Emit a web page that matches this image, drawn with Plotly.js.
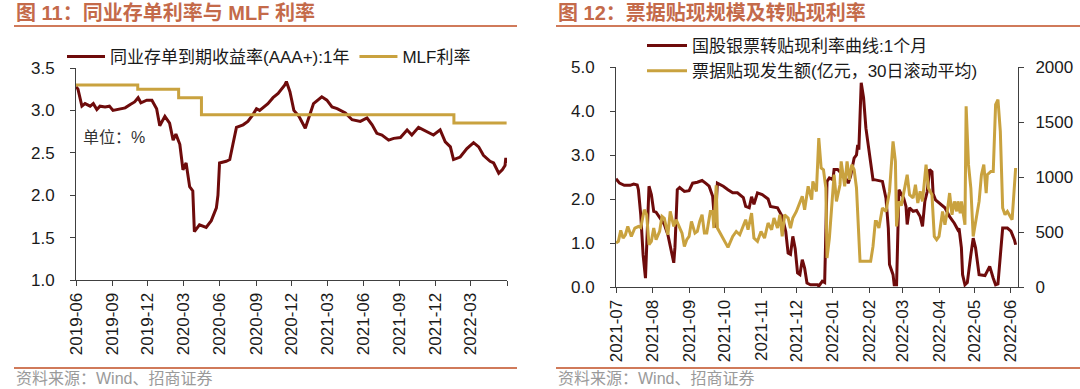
<!DOCTYPE html>
<html>
<head>
<meta charset="utf-8">
<script src="https://cdn.plot.ly/plotly-3.0.1.min.js"></script>
<style>
html,body{margin:0;padding:0;background:#fff;}
#chart{width:1080px;height:389px;}
</style>
</head>
<body>
<div id="chart"></div>
<script>
// ---------- Figure 11 data ----------
const ncdDates = ['2019-06-01','2019-06-06','2019-06-16','2019-06-24','2019-07-07','2019-07-15','2019-07-24','2019-08-01','2019-08-14','2019-08-25','2019-09-03','2019-09-17','2019-10-04','2019-10-17','2019-10-28','2019-11-06','2019-11-13','2019-11-28','2019-12-11','2019-12-23','2019-12-31','2020-01-13','2020-01-25','2020-02-03','2020-02-10','2020-02-20','2020-02-28','2020-03-07','2020-03-16','2020-03-24','2020-03-28','2020-04-10','2020-04-27','2020-05-10','2020-05-23','2020-05-27','2020-05-31','2020-06-17','2020-06-26','2020-07-04','2020-07-13','2020-07-30','2020-08-11','2020-08-24','2020-09-02','2020-09-10','2020-09-23','2020-10-01','2020-10-14','2020-10-27','2020-11-13','2020-11-17','2020-11-26','2020-12-06','2020-12-19','2021-01-04','2021-01-17','2021-01-25','2021-02-15','2021-02-28','2021-03-13','2021-03-26','2021-04-16','2021-05-03','2021-05-24','2021-06-10','2021-06-23','2021-07-05','2021-07-18','2021-08-04','2021-08-17','2021-09-03','2021-09-20','2021-10-02','2021-10-19','2021-11-01','2021-11-26','2021-12-13','2021-12-26','2022-01-08','2022-01-16','2022-02-02','2022-02-19','2022-03-08','2022-03-21','2022-04-02','2022-04-19','2022-04-28','2022-05-11','2022-05-20','2022-05-27','2022-05-29','2022-05-31'];
const ncdValues = [3.28,3.25,3.05,3.08,3.05,3.08,3.01,3.05,3.04,3.05,3.00,3.01,3.03,3.07,3.10,3.15,3.09,3.12,3.12,3.02,2.82,2.93,2.85,2.65,2.72,2.60,2.30,2.38,2.10,2.05,1.57,1.65,1.62,1.70,1.85,2.00,2.38,2.40,2.42,2.60,2.80,2.83,2.87,2.95,3.02,3.00,3.05,3.08,3.15,3.20,3.30,3.34,3.22,3.00,2.93,2.79,2.97,3.08,3.16,3.12,3.04,3.02,2.97,2.89,2.87,2.91,2.83,2.73,2.71,2.65,2.67,2.68,2.77,2.71,2.80,2.77,2.71,2.77,2.63,2.57,2.42,2.45,2.55,2.62,2.57,2.47,2.40,2.38,2.26,2.30,2.35,2.44,2.38];
const mlfDates = ['2019-06-01','2019-11-05','2020-02-17','2020-04-15','2022-01-17','2022-05-31'];
const mlfValues = [3.30,3.25,3.15,2.95,2.85,2.85];
const leftTickText = ['2019-06','2019-09','2019-12','2020-03','2020-06','2020-09','2020-12','2021-03','2021-06','2021-09','2021-12','2022-03',''];
const leftTickVals = ['2019-06-01','2019-09-01','2019-12-01','2020-03-01','2020-06-01','2020-09-01','2020-12-01','2021-03-01','2021-06-01','2021-09-01','2021-12-01','2022-03-01','2022-06-01'];

// ---------- Figure 12 data ----------
const rateDates = ['2021-07-01','2021-07-04','2021-07-08','2021-07-13','2021-07-16','2021-07-19','2021-07-20','2021-07-22','2021-07-24','2021-07-26','2021-07-27','2021-07-29','2021-07-31','2021-08-02','2021-08-04','2021-08-07','2021-08-11','2021-08-14','2021-08-16','2021-08-19','2021-08-20','2021-08-22','2021-08-24','2021-08-28','2021-09-01','2021-09-04','2021-09-08','2021-09-12','2021-09-15','2021-09-18','2021-09-21','2021-09-23','2021-09-25','2021-09-30','2021-10-04','2021-10-08','2021-10-12','2021-10-17','2021-10-19','2021-10-22','2021-10-24','2021-10-26','2021-10-29','2021-11-02','2021-11-07','2021-11-09','2021-11-15','2021-11-19','2021-11-22','2021-11-24','2021-11-26','2021-11-28','2021-11-30','2021-12-02','2021-12-04','2021-12-06','2021-12-08','2021-12-10','2021-12-13','2021-12-19','2021-12-20','2021-12-23','2021-12-25','2021-12-27','2021-12-29','2022-01-01','2022-01-02','2022-01-05','2022-01-08','2022-01-11','2022-01-14','2022-01-16','2022-01-19','2022-01-21','2022-01-22','2022-01-23','2022-01-25','2022-01-27','2022-01-29','2022-02-04','2022-02-05','2022-02-12','2022-02-15','2022-02-17','2022-02-18','2022-02-21','2022-02-22','2022-02-24','2022-02-26','2022-03-02','2022-03-04','2022-03-05','2022-03-07','2022-03-10','2022-03-13','2022-03-16','2022-03-18','2022-03-20','2022-03-22','2022-03-24','2022-03-26','2022-03-27','2022-03-29','2022-04-01','2022-04-06','2022-04-10','2022-04-14','2022-04-17','2022-04-18','2022-04-20','2022-04-21','2022-04-23','2022-04-25','2022-04-28','2022-04-30','2022-05-02','2022-05-05','2022-05-10','2022-05-14','2022-05-17','2022-05-19','2022-05-21','2022-05-23','2022-05-25','2022-05-29','2022-06-01','2022-06-04','2022-06-05'];
const rateValues = [2.46,2.36,2.31,2.31,2.34,2.32,2.21,1.64,0.73,0.20,0.90,2.29,2.10,1.72,1.70,1.57,1.42,1.19,0.96,0.55,0.90,2.21,2.26,2.17,2.19,2.36,2.38,2.42,2.36,2.29,2.06,1.35,2.36,2.29,2.21,2.14,2.14,2.03,1.83,1.80,2.05,1.88,2.14,2.10,2.00,1.83,1.80,1.60,1.26,0.77,0.74,1.15,0.87,0.32,0.28,0.62,0.43,0.09,0.05,0.05,0.02,0.13,0.10,2.40,2.48,2.44,2.67,2.67,2.59,2.52,2.36,2.52,2.93,3.00,3.23,3.12,4.64,4.30,3.61,2.44,2.44,2.40,2.02,1.34,0.51,0.28,0.05,0.05,2.21,2.02,1.83,1.42,1.80,1.72,1.74,1.60,1.38,1.95,2.17,2.67,2.62,2.12,1.98,1.91,1.80,1.60,1.45,1.30,1.33,0.89,0.28,0.05,0.10,0.73,1.11,0.89,0.28,0.26,0.47,0.20,0.05,0.07,0.73,1.34,1.34,1.27,1.07,0.96];
const volDates = ['2021-07-01','2021-07-03','2021-07-05','2021-07-07','2021-07-09','2021-07-11','2021-07-14','2021-07-17','2021-07-20','2021-07-22','2021-07-25','2021-07-27','2021-07-29','2021-07-31','2021-08-02','2021-08-04','2021-08-07','2021-08-09','2021-08-11','2021-08-14','2021-08-16','2021-08-19','2021-08-21','2021-08-23','2021-08-26','2021-08-28','2021-08-30','2021-09-01','2021-09-03','2021-09-06','2021-09-08','2021-09-10','2021-09-12','2021-09-14','2021-09-16','2021-09-19','2021-09-21','2021-09-22','2021-09-24','2021-09-25','2021-09-29','2021-10-04','2021-10-08','2021-10-11','2021-10-14','2021-10-17','2021-10-19','2021-10-21','2021-10-24','2021-10-26','2021-10-29','2021-11-01','2021-11-04','2021-11-07','2021-11-10','2021-11-12','2021-11-15','2021-11-17','2021-11-19','2021-11-21','2021-11-24','2021-11-26','2021-11-28','2021-12-01','2021-12-04','2021-12-06','2021-12-08','2021-12-11','2021-12-14','2021-12-15','2021-12-18','2021-12-20','2021-12-22','2021-12-24','2021-12-26','2021-12-27','2021-12-29','2021-12-31','2022-01-02','2022-01-04','2022-01-07','2022-01-08','2022-01-11','2022-01-13','2022-01-15','2022-01-17','2022-01-19','2022-01-21','2022-01-24','2022-02-02','2022-02-04','2022-02-06','2022-02-07','2022-02-09','2022-02-12','2022-02-15','2022-02-18','2022-02-21','2022-02-23','2022-02-24','2022-02-26','2022-02-28','2022-03-03','2022-03-05','2022-03-07','2022-03-10','2022-03-12','2022-03-14','2022-03-16','2022-03-18','2022-03-21','2022-03-23','2022-03-26','2022-03-28','2022-03-30','2022-04-01','2022-04-04','2022-04-06','2022-04-08','2022-04-10','2022-04-12','2022-04-14','2022-04-16','2022-04-17','2022-04-19','2022-04-20','2022-04-23','2022-04-24','2022-04-26','2022-04-28','2022-04-30','2022-05-02','2022-05-05','2022-05-07','2022-05-09','2022-05-11','2022-05-12','2022-05-15','2022-05-17','2022-05-19','2022-05-21','2022-05-23','2022-05-25','2022-05-27','2022-05-29','2022-06-02','2022-06-04','2022-06-05'];
const volValues = [400,415,515,445,475,550,460,536,550,540,703,657,385,415,536,430,505,642,625,475,687,550,612,566,490,369,430,460,596,490,505,596,657,490,490,687,687,536,924,536,460,360,460,505,475,566,612,521,672,445,415,505,445,582,521,627,536,657,460,657,627,536,627,687,763,824,703,915,794,960,869,1354,1082,1066,900,264,445,748,1021,778,930,1142,915,1142,975,1112,1066,900,233,233,369,596,596,536,718,687,869,1324,1142,551,778,740,930,1021,839,809,930,763,869,778,1112,900,839,460,430,460,687,566,687,854,657,778,687,778,672,778,566,1642,1112,900,460,596,778,1021,1112,854,1021,1051,1051,1657,1703,1415,718,657,687,612,900,1082];
const rightTickText = ['2021-07','2021-08','2021-09','2021-10','2021-11','2021-12','2022-01','2022-02','2022-03','2022-04','2022-05','2022-06'];

// ---------- styling ----------
const W = 1080, H = 389;
const px = x => x / W;
const py = y => 1 - y / H;
const FONT = "'Liberation Sans', Arial, 'Noto Sans CJK SC', sans-serif";
const RED = '#6E0B0B';
const GOLD = '#C9A23F';
const AX = '#404040';
const TITLE = '#C46A4A';
const RULE = '#D07A5A';

const axisBase = {
  showline: true, linecolor: AX, linewidth: 1,
  ticks: 'outside', ticklen: 5, tickcolor: AX, tickwidth: 1,
  showgrid: false, zeroline: false,
  tickfont: {family: FONT, size: 17, color: '#1a1a1a'}
};

const traces = [
  {x: ncdDates, y: ncdValues, name: '同业存单到期收益率(AAA+):1年', type: 'scatter', mode: 'lines',
   line: {color: RED, width: 3}, xaxis: 'x', yaxis: 'y', legend: 'legend'},
  {x: mlfDates, y: mlfValues, name: 'MLF利率', type: 'scatter', mode: 'lines',
   line: {color: GOLD, width: 3, shape: 'hv'}, xaxis: 'x', yaxis: 'y', legend: 'legend'},
  {x: rateDates, y: rateValues, name: '国股银票转贴现利率曲线:1个月', type: 'scatter', mode: 'lines',
   line: {color: RED, width: 3}, xaxis: 'x2', yaxis: 'y2', legend: 'legend2', legendgroup: 'a'},
  {x: volDates, y: volValues, name: '票据贴现发生额(亿元，30日滚动平均)', type: 'scatter', mode: 'lines',
   line: {color: GOLD, width: 3}, xaxis: 'x2', yaxis: 'y3', legend: 'legend2', legendgroup: 'b'}
];

const layout = {
  width: W, height: H,
  margin: {l: 0, r: 0, t: 0, b: 0},
  paper_bgcolor: '#ffffff', plot_bgcolor: 'rgba(0,0,0,0)',
  font: {family: FONT, size: 17, color: '#1a1a1a'},
  showlegend: true,
  xaxis: Object.assign({}, axisBase, {
    domain: [px(76), px(507)], anchor: 'y', type: 'date',
    range: ['2019-06-01', '2022-06-01'],
    tickmode: 'array', tickvals: leftTickVals, ticktext: leftTickText,
    tickangle: -90
  }),
  yaxis: Object.assign({}, axisBase, {
    domain: [py(280), py(68)], anchor: 'x',
    range: [1, 3.5], dtick: 0.5, tick0: 1, tickformat: '.1f',
    ticklabelstandoff: 12
  }),
  xaxis2: Object.assign({}, axisBase, {
    domain: [px(616), px(1018)], anchor: 'y2', type: 'date',
    range: ['2021-07-01', '2022-06-07'],
    tickmode: 'array', tickvals: rightTickText.map(t => t + '-01'), ticktext: rightTickText,
    tickangle: -90
  }),
  yaxis2: Object.assign({}, axisBase, {
    domain: [py(287), py(67)], anchor: 'x2',
    range: [0, 5], dtick: 1, tick0: 0, tickformat: '.1f',
    ticklabelstandoff: 12
  }),
  yaxis3: Object.assign({}, axisBase, {
    overlaying: 'y2', side: 'right', anchor: 'x2',
    range: [0, 2000], dtick: 500, tick0: 0,
    ticklabelstandoff: 8
  }),
  legend: {
    x: px(62), y: py(39), xanchor: 'left', yanchor: 'top',
    orientation: 'h', bgcolor: 'rgba(0,0,0,0)', borderwidth: 0,
    font: {family: FONT, size: 17, color: '#1a1a1a'},
    itemwidth: 38, traceorder: 'normal'
  },
  legend2: {
    x: px(642), y: py(28), xanchor: 'left', yanchor: 'top',
    orientation: 'v', bgcolor: 'rgba(0,0,0,0)', borderwidth: 0,
    font: {family: FONT, size: 17, color: '#1a1a1a'},
    itemwidth: 40, traceorder: 'grouped', tracegroupgap: 0
  },
  shapes: [
    {type: 'line', xref: 'paper', yref: 'paper', x0: px(14), x1: px(517), y0: py(26), y1: py(26), line: {color: RULE, width: 2}},
    {type: 'line', xref: 'paper', yref: 'paper', x0: px(556), x1: px(1080), y0: py(26), y1: py(26), line: {color: RULE, width: 2}},
    {type: 'line', xref: 'paper', yref: 'paper', x0: px(14), x1: px(517), y0: py(368), y1: py(368), line: {color: RULE, width: 2}},
    {type: 'line', xref: 'paper', yref: 'paper', x0: px(556), x1: px(1080), y0: py(368), y1: py(368), line: {color: RULE, width: 2}}
  ],
  annotations: [
    {text: '<b>图 11：同业存单利率与 MLF 利率</b>', xref: 'paper', yref: 'paper', x: px(14), y: py(13),
     xanchor: 'left', yanchor: 'middle', showarrow: false, font: {family: FONT, size: 20, color: TITLE}},
    {text: '<b>图 12：票据贴现规模及转贴现利率</b>', xref: 'paper', yref: 'paper', x: px(556), y: py(13),
     xanchor: 'left', yanchor: 'middle', showarrow: false, font: {family: FONT, size: 20, color: TITLE}},
    {text: '单位：%', xref: 'paper', yref: 'paper', x: px(81), y: py(138),
     xanchor: 'left', yanchor: 'middle', showarrow: false, font: {family: FONT, size: 16, color: '#333333'}},
    {text: '资料来源：Wind、招商证券', xref: 'paper', yref: 'paper', x: px(14), y: py(378),
     xanchor: 'left', yanchor: 'middle', showarrow: false, font: {family: FONT, size: 16, color: '#9a9a9a'}},
    {text: '资料来源：Wind、招商证券', xref: 'paper', yref: 'paper', x: px(556), y: py(378),
     xanchor: 'left', yanchor: 'middle', showarrow: false, font: {family: FONT, size: 16, color: '#9a9a9a'}}
  ]
};

Plotly.newPlot('chart', traces, layout, {displayModeBar: false, staticPlot: true});
</script>
</body>
</html>
